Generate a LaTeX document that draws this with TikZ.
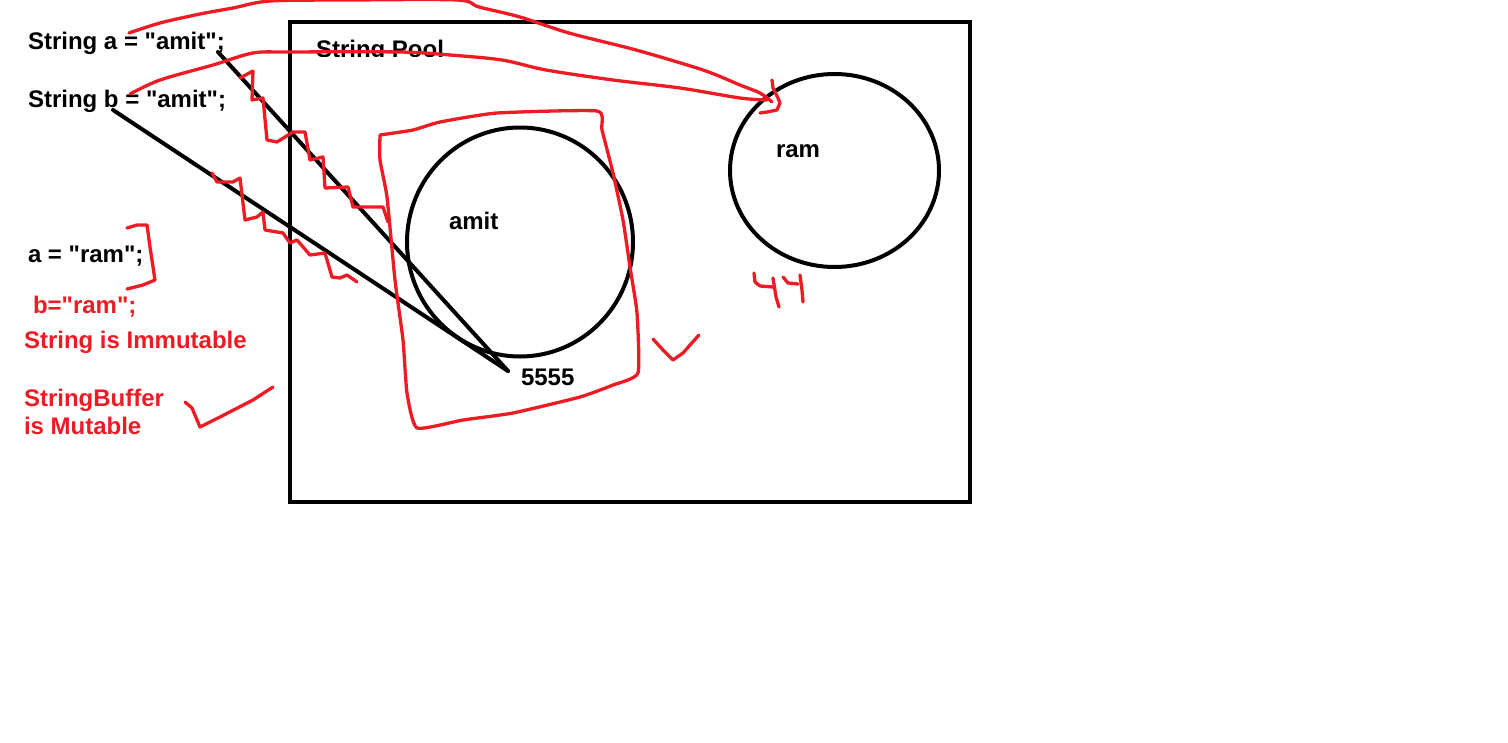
\documentclass[tikz,border=0pt]{standalone}
\usepackage{fontspec}
\newfontfamily\paintfont{Liberation Sans}
\usetikzlibrary{shapes.geometric}
\definecolor{pred}{RGB}{237,28,36}
\tikzset{
  txt/.style={anchor=base west, inner sep=0pt, outer sep=0pt, font=\paintfont\fontsize{24}{28}\selectfont\bfseries},
  rtxt/.style={txt, text=pred},
  blk/.style={draw=black, line width=4pt},
  pen/.style={draw=pred, line width=3.3pt, line cap=round, line join=round},
  blob/.style={blk, ellipse, inner sep=0pt}
}
\begin{document}
\begin{tikzpicture}[x=1pt,y=-1pt]
\useasboundingbox (0,0) rectangle (1508,742);
\fill[white] (0,0) rectangle (1508,742);

% pool box and circles
\node[blk, rectangle, minimum width=680pt, minimum height=480pt, inner sep=0pt] (pool) at (630,262) {};
\node[blob, minimum width=226pt, minimum height=229pt] (amitc) at (520,242) {};
\node[blob, minimum width=209pt, minimum height=193pt] (ramc) at (834.5,170.5) {};

% texts
\node[txt] (sa) at (28,49) {String a = "amit";};
\node[txt] (sb) at (28,107) {String b = "amit";};
\node[txt] (ar) at (28,262) {a = "ram";};
\node[rtxt] (br) at (33,313) {b="ram";};
\node[rtxt] (imm) at (24,348) {String is Immutable};
\node[rtxt] (sbuf) at (24,406) {StringBuffer};
\node[rtxt] (mut) at (24,434) {is Mutable};
\begin{scope}
  \clip (300,30) rectangle (470,56);
  \node[txt] (pooltxt) at (316,57) {String Pool};
\end{scope}
\node[txt] (amitt) at (449,229) {amit};
\node[txt] (n5555) at (521,385) {5555};
\node[txt] (ramt) at (776,157) {ram};

% black reference lines
\coordinate (ta) at (218,52);
\coordinate (tb) at (113,110);
\coordinate (tip) at (508,371);
\draw[blk, line cap=round] (ta) -- (tip);
\draw[blk, line cap=round] (tb) -- (tip);

% red strokes to ram
\draw[pen] plot[smooth, tension=0.5] coordinates {(129,33) (160,23) (200,14) (233,8) (270,1) (350,0) (457,0) (479,7) (520,17) (569,33) (636,50) (703,70) (740,85) (760,93) (772,102)};
\draw[pen] plot[smooth, tension=0.5] coordinates {(130,94) (160,80) (213,65) (253,53) (290,52) (400,52) (450,55) (502,60) (546,70) (613,80) (680,88) (740,98) (767,100)};
\draw[pen] (772,80) -- (773,88) -- (778,98) -- (780,103) -- (777,110) -- (767,112) -- (760,113);

% zigzag along line a
\draw[pen] (240,78) -- (253,71) -- (252,100) -- (263,98) -- (267,140) -- (277,142) -- (293,132) -- (305,132) -- (310,160) -- (323,157) -- (325,188) -- (348,187) -- (353,207) -- (383,207) -- (388,222);
% zigzag along line b
\draw[pen] (212,173) -- (217,182) -- (233,182) -- (240,178) -- (245,220) -- (257,217) -- (263,212) -- (265,230) -- (283,233) -- (290,243) -- (297,240) -- (310,255) -- (325,253) -- (332,277) -- (340,278) -- (347,275) -- (357,282);

% bracket
\draw[pen] (127,228) -- (137,225) -- (147,225) -- (150,247) -- (155,280) -- (143,285) -- (127,289);
% tick near StringBuffer
\draw[pen] (185,402) -- (192,408) -- (200,427) -- (220,417) -- (253,400) -- (273,387);
% box around amit
\draw[pen] plot[smooth, tension=0.3] coordinates {(380,135) (413,130) (440,122) (497,113) (597,111) (602,130) (613,173) (623,220) (630,267) (637,313) (638,373) (613,385) (580,397) (513,413) (463,420) (417,428) (407,393) (403,340) (395,280) (387,197) (380,160) (380,135)};
% tick right of amit
\draw[pen] (653,339) -- (663,350) -- (673,360) -- (683,353) -- (690,345) -- (699,335);
% 44
\draw[pen] (754,273) -- (755,282) -- (760,286) -- (773,287);
\draw[pen] (773,278) -- (776,297) -- (779,307);
\draw[pen] (783,277) -- (788,283) -- (798,284);
\draw[pen] (800,275) -- (802,290) -- (803,302);
\end{tikzpicture}
\end{document}
